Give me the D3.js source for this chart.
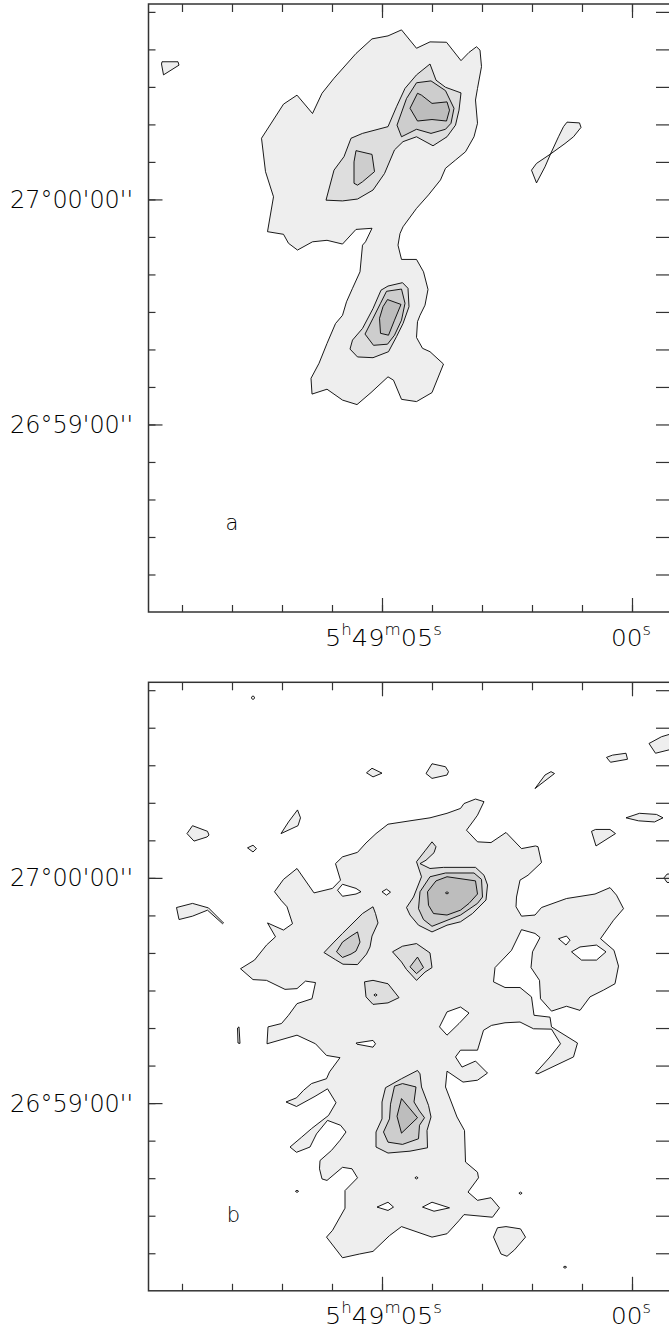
<!DOCTYPE html>
<html><head><meta charset="utf-8">
<script src="https://cdn.jsdelivr.net/npm/d3@7"></script>
<style>
body{margin:0;background:#fff;}
svg{display:block;}
text{font-family:"DejaVu Sans","Liberation Sans",sans-serif;font-weight:200;fill:#000;}
</style></head><body>
<svg id="chart" width="669" height="1333"></svg>
<script>
// Coordinates: RA = seconds of time after 5h49m00s ; Dec = arcsec offset from +27°00'00"
const raMinorTicks = [9,8,7,6,5,4,3,2,1,0];
const raMajorTicks = [5,0];
const raLabelParts = [[["5","h"],["49","m"],["05","s"]],[["00","s"]]];
const decMinorTicks = [50,40,30,20,10,0,-10,-20,-30,-40,-50,-60,-70,-80,-90,-100];
const decMajorTicks = [0,-60];
const decLabels = ["27°00'00''","26°59'00''"];
const panelNames = ["a","b"];

// ---------- Panel a ----------
const panelA_L1 = [
 [[9.40,36.7],[9.08,36.7],[9.06,35.8],[9.37,33.2],[9.41,36.1]],
 [[7.17,0.7],[7.33,7.4],[7.41,16.3],[6.97,25.4],[6.70,27.8],[6.39,22.9],[6.20,28.3],[5.96,32.3],[5.52,38.9],[5.20,42.8],[4.88,43.6],[4.61,45.2],[4.31,40.3],[4.04,42.0],[3.71,41.9],[3.42,37.0],[3.26,39.2],[3.11,40.7],[3.04,39.8],[3.01,35.4],[3.09,29.6],[3.13,26.5],[3.09,20.3],[3.16,16.7],[3.33,12.7],[3.53,10.5],[3.73,8.3],[3.83,5.2],[4.07,1.2],[4.31,-2.4],[4.58,-7.3],[4.64,-9.1],[4.68,-12.2],[4.61,-16.0],[4.31,-16.0],[4.17,-19.3],[4.08,-24.0],[4.14,-28.2],[4.24,-30.9],[4.29,-32.6],[4.31,-36.8],[4.19,-39.7],[4.04,-40.6],[3.77,-43.9],[4.00,-51.5],[4.31,-53.9],[4.61,-53.3],[4.77,-48.2],[4.88,-47.3],[5.22,-51.5],[5.50,-54.7],[5.79,-53.5],[6.10,-50.6],[6.40,-51.9],[6.42,-47.7],[6.26,-43.7],[6.10,-38.4],[5.93,-33.1],[5.79,-30.9],[5.71,-27.3],[5.59,-23.7],[5.44,-19.3],[5.39,-12.2],[5.33,-11.3],[5.20,-7.7],[5.52,-8.0],[5.79,-11.9],[6.10,-10.9],[6.39,-11.3],[6.69,-13.5],[6.87,-11.7],[6.97,-9.3],[7.29,-8.6]],
 [[2.01,7.8],[1.91,9.6],[1.63,12.1],[1.34,14.9],[1.17,16.7],[1.02,19.2],[1.05,20.4],[1.30,20.6],[1.37,19.4],[1.47,16.7],[1.63,12.1],[1.74,8.7],[1.91,4.4]]
];
const panelA_holes = [];
const panelA_L2 = [
 [[6.12,-0.2],[5.96,7.8],[5.76,11.4],[5.62,16.3],[5.39,17.6],[4.88,19.4],[4.71,24.7],[4.54,29.6],[4.31,33.2],[4.04,36.1],[3.92,31.8],[3.73,29.9],[3.42,28.4],[3.46,23.8],[3.53,19.8],[3.70,16.7],[3.98,14.3],[4.31,16.7],[4.58,15.4],[4.75,13.2],[4.95,6.9],[5.18,2.5],[5.49,0.1],[5.79,-0.4]],
 [[5.02,-24.2],[4.88,-23.1],[4.59,-22.2],[4.48,-23.7],[4.46,-28.6],[4.58,-33.1],[4.71,-36.6],[4.87,-40.6],[5.18,-42.2],[5.49,-42.0],[5.64,-39.9],[5.59,-37.5],[5.39,-34.4],[5.18,-29.1]]
];
const panelA_L3 = [
 [[4.31,31.1],[4.02,31.6],[3.73,29.0],[3.56,24.3],[3.62,20.3],[3.73,18.7],[4.02,17.6],[4.31,18.7],[4.61,16.7],[4.70,19.8],[4.51,26.9]],
 [[5.52,13.0],[5.20,12.0],[5.15,7.4],[5.39,4.7],[5.49,3.8],[5.56,4.3],[5.56,10.0]],
 [[4.91,-24.5],[4.61,-23.9],[4.54,-27.7],[4.61,-32.2],[4.75,-36.2],[4.89,-38.6],[5.17,-38.9],[5.34,-35.9],[5.18,-31.7],[5.03,-27.7]]
];
const panelA_L4 = [
 [[4.29,28.3],[4.21,27.8],[4.00,25.6],[3.70,26.0],[3.65,23.8],[3.71,20.9],[4.00,21.3],[4.29,20.9],[4.44,24.3]],
 [[4.89,-26.7],[4.62,-28.0],[4.75,-32.2],[4.87,-36.2],[5.03,-35.7],[5.05,-31.7],[4.98,-28.6]]
];
const panelA_specks = [];

// ---------- Panel b ----------
const panelB_L1 = [
 [[7.62,48.0],[7.58,48.5],[7.54,48.0],[7.58,47.5]],
 [[5.31,28.0],[5.20,29.2],[5.00,27.9],[5.18,26.9]],
 [[4.12,27.8],[4.00,30.4],[3.73,29.6],[3.67,28.3],[3.70,27.4],[4.00,26.5]],
 [[1.94,23.8],[1.74,27.4],[1.62,28.3],[1.55,27.8]],
 [[0.51,32.1],[0.39,32.7],[0.12,33.2],[0.09,31.6],[0.43,30.8]],
 [[-0.34,35.8],[-0.59,37.6],[-0.74,38.2],[-0.95,39.0],[-0.95,33.0],[-0.74,34.1],[-0.47,33.2]],
 [[0.12,16.0],[-0.15,17.2],[-0.49,16.9],[-0.62,16.0],[-0.45,14.9],[-0.13,15.2]],
 [[0.81,12.4],[0.73,12.9],[0.44,12.9],[0.33,11.8],[0.72,8.5]],
 [[8.90,11.8],[8.79,13.9],[8.49,12.4],[8.46,11.4],[8.50,10.9],[8.76,9.8]],
 [[7.02,11.8],[6.87,14.9],[6.69,18.1],[6.63,16.0],[6.68,13.9]],
 [[7.69,8.0],[7.58,8.7],[7.51,7.8],[7.58,6.9]],
 [[-0.64,0.0],[-0.70,1.0],[-0.90,1.2],[-0.90,-1.4],[-0.70,-1.2]],
 [[9.11,-7.9],[8.79,-6.8],[8.47,-8.0],[8.17,-12.0],[8.19,-12.2],[8.49,-8.6],[8.79,-10.2],[9.06,-11.1]],
 [[7.89,-40.0],[7.86,-39.7],[7.84,-44.1],[7.88,-44.0]],
 [[2.77,-95.7],[2.69,-93.2],[2.52,-92.9],[2.23,-93.5],[2.13,-95.7],[2.35,-99.1],[2.50,-100.8],[2.62,-100.2]],
 [[4.88,14.3],[4.44,15.2],[4.04,16.0],[3.70,17.2],[3.43,18.5],[3.36,19.8],[3.13,21.0],[2.96,20.3],[3.09,16.7],[3.16,15.4],[3.31,12.7],[3.09,9.6],[2.82,9.4],[2.52,12.1],[2.21,7.8],[1.93,8.5],[1.88,8.3],[1.81,4.1],
  [2.08,0.7],[2.24,-0.6],[2.31,-5.1],[2.32,-7.7],[2.21,-10.2],[1.94,-9.9],[1.81,-7.9],[1.31,-5.5],[0.74,-4.3],[0.44,-2.6],[0.31,-4.6],[0.17,-8.2],
  [0.37,-11.3],[0.63,-16.2],[0.36,-19.3],[0.27,-23.5],[0.34,-28.2],[0.57,-29.9],[0.84,-31.7],[1.04,-35.3],[1.31,-34.2],[1.61,-35.5],[1.83,-32.2],[1.85,-27.3],[2.02,-23.9],[1.99,-19.7],[1.84,-15.9],[1.94,-14.8],[2.21,-13.8],[2.41,-19.3],[2.74,-23.9],[2.77,-27.7],[2.54,-29.2],[2.24,-29.2],[2.01,-31.7],[1.96,-36.6],[1.64,-37.1],[1.61,-39.7],
  [1.09,-44.0],[1.17,-47.7],[1.88,-52.2],[1.93,-52.0],[1.64,-47.7],[1.43,-44.2],[1.61,-40.3],
  [1.97,-40.2],[2.24,-38.4],[2.54,-38.6],[2.81,-39.3],[2.97,-40.6],
  [3.09,-45.9],[3.43,-45.9],[3.53,-47.7],[3.40,-50.4],[3.13,-48.8],[2.89,-52.0],[3.09,-53.9],[3.38,-54.4],[3.70,-51.5],[3.73,-55.7],[3.50,-63.7],[3.35,-67.3],
  [3.33,-75.7],[3.09,-78.4],[3.07,-79.9],[3.28,-83.7],[3.09,-85.9],[2.82,-85.2],[2.65,-87.9],[2.79,-90.4],[3.36,-89.7],[3.46,-91.3],[3.70,-94.8],[4.00,-95.7],[4.61,-92.9],[4.85,-95.3],[5.18,-99.5],[5.45,-100.2],[5.79,-101.2],[6.11,-95.7],[5.99,-93.9],[5.74,-88.0],[5.74,-83.3],[5.49,-79.9],[5.60,-77.5],[5.79,-77.1],[6.10,-80.6],[6.20,-80.2],
  [6.25,-77.5],[6.24,-75.3],[6.01,-72.6],[5.84,-69.9],[5.72,-67.7],[5.83,-65.9],[6.09,-64.6],[6.31,-68.2],[6.44,-71.7],[6.71,-73.1],[6.84,-71.7],[6.61,-69.1],[6.41,-66.8],[6.07,-63.3],[5.92,-59.9],[6.09,-56.2],[6.34,-58.2],[6.71,-60.9],[6.92,-59.7],[6.71,-58.6],[6.57,-56.6],[6.41,-54.8],[6.11,-53.5],[6.05,-51.7],[5.84,-47.9],[6.11,-47.3],
  [6.33,-44.2],[6.70,-41.9],[7.30,-44.2],[7.28,-39.7],[7.01,-38.8],[6.87,-36.6],[6.70,-33.5],[6.40,-32.2],[6.33,-27.9],[6.53,-27.5],[6.70,-29.5],[6.94,-29.7],[7.31,-27.3],[7.58,-27.1],[7.83,-24.2],[7.55,-21.9],[7.31,-17.9],[7.13,-15.7],[7.29,-12.0],[6.97,-13.9],[6.79,-12.2],[6.90,-7.7],[7.01,-6.1],
  [7.15,-3.7],[6.97,-0.4],[6.70,2.5],[6.36,-4.0],[5.99,-2.8],[5.83,-0.6],[5.93,3.8],[5.79,5.6],[5.49,6.8],[5.32,9.3],[5.12,11.8]]
];
const panelB_holes = [
 [[5.89,-3.3],[5.79,-1.7],[5.52,-2.8],[5.42,-3.7],[5.52,-4.3],[5.79,-4.9]],
 [[5.00,-3.7],[4.91,-3.0],[4.83,-3.8],[4.91,-4.6]],
 [[1.47,-16.2],[1.31,-15.5],[1.24,-16.6],[1.32,-17.9]],
 [[1.21,-19.7],[1.04,-18.4],[0.71,-17.9],[0.52,-19.7],[0.71,-21.9],[1.01,-21.9]],
 [[3.85,-39.7],[3.70,-35.7],[3.43,-34.4],[3.26,-36.0],[3.46,-38.8],[3.70,-41.9]],
 [[5.52,-44.0],[5.18,-43.3],[5.13,-44.2],[5.18,-45.1],[5.50,-44.3]],
 [[5.10,-87.7],[4.88,-86.4],[4.77,-87.7],[4.88,-88.6]],
 [[4.19,-87.7],[4.00,-86.4],[3.65,-87.9],[3.96,-88.8]]
];
const panelB_L2 = [
 [[4.21,0.3],[4.31,4.3],[4.14,7.2],[4.00,9.6],[3.92,8.3],[3.96,6.7],[4.12,4.7],[4.24,3.8],[4.04,2.5],[3.77,2.8],[3.13,2.8],[2.96,0.7],[2.89,-1.9],[2.92,-5.9],[3.19,-9.5],[3.43,-11.7],[3.70,-12.6],[4.00,-14.4],[4.27,-12.6],[4.44,-9.9],[4.51,-7.9],[4.37,-5.1]],
 [[6.16,-19.9],[5.96,-17.1],[5.79,-14.8],[5.39,-9.5],[5.18,-7.7],[5.13,-9.5],[5.08,-12.0],[5.20,-15.5],[5.24,-18.4],[5.31,-20.3],[5.49,-23.1],[5.78,-23.0],[5.93,-21.8]],
 [[4.79,-19.7],[4.59,-18.2],[4.31,-17.5],[4.04,-20.0],[4.00,-23.9],[4.14,-25.1],[4.31,-27.3],[4.51,-24.4],[4.61,-22.4]],
 [[5.35,-27.7],[5.18,-27.3],[4.88,-28.2],[4.66,-31.9],[4.88,-33.3],[5.18,-33.7],[5.32,-31.7]],
 [[4.93,-55.9],[4.61,-53.5],[4.29,-51.3],[4.24,-52.2],[4.21,-55.7],[4.07,-60.6],[4.02,-63.7],[4.10,-67.3],[4.09,-71.9],[4.44,-72.8],[4.88,-73.3],[5.12,-71.7],[5.12,-67.7],[5.00,-64.2],[5.00,-59.7]]
];
const panelB_L3 = [
 [[4.24,-3.7],[4.04,0.3],[3.73,1.3],[3.16,1.3],[3.01,-0.4],[2.99,-5.1],[3.09,-6.8],[3.43,-9.9],[4.00,-12.9],[4.17,-11.1],[4.27,-8.2]],
 [[5.91,-19.7],[5.79,-17.1],[5.62,-15.5],[5.49,-14.4],[5.44,-17.1],[5.52,-19.5],[5.62,-20.3],[5.79,-21.2]],
 [[4.44,-23.7],[4.29,-21.1],[4.17,-23.9],[4.31,-25.5]],
 [[4.75,-55.5],[4.59,-54.8],[4.32,-55.7],[4.36,-59.7],[4.25,-62.1],[4.15,-63.9],[4.25,-65.9],[4.27,-69.5],[4.59,-71.0],[4.88,-70.4],[4.97,-67.7],[4.85,-64.2],[4.83,-60.3]]
];
const panelB_L4 = [
 [[4.09,-3.7],[3.92,-0.8],[3.70,0.3],[3.13,-0.8],[3.09,-4.3],[3.26,-6.8],[3.43,-8.6],[3.70,-9.9],[3.97,-9.5],[4.07,-7.3]],
 [[4.61,-58.8],[4.29,-63.9],[4.61,-68.0],[4.70,-63.5]]
];
const panelB_specks = [[3.70,-4.0],[6.70,-83.5],[2.23,-84.0],[1.34,-103.7],[4.31,-79.9],[5.13,-31.2]];

// ---------- drawing ----------
const svg = d3.select('#chart');
const x = d3.scaleLinear().domain([9.67,-0.78]).range([148.5,671]);
const decDomain = [52.1,-110.0];
const fills = ['#eeeeee','#ffffff','#dedede','#cdcdcd','#bdbdbd'];

const panels = [
  {name:panelNames[0], top:4, bottom:612, layers:[panelA_L1,panelA_holes,panelA_L2,panelA_L3,panelA_L4], specks:panelA_specks, lab:[8.0,-88.2]},
  {name:panelNames[1], top:682.3, bottom:1290.8, layers:[panelB_L1,panelB_holes,panelB_L2,panelB_L3,panelB_L4], specks:panelB_specks, lab:[7.97,-91.8]}
];

panels.forEach(cfg=>{
  const y = d3.scaleLinear().domain(decDomain).range([cfg.top,cfg.bottom]);
  const g = svg.append('g');
  const clipId = 'clip-'+cfg.name;
  svg.append('clipPath').attr('id',clipId).append('rect')
     .attr('x',x.range()[0]).attr('y',cfg.top)
     .attr('width',x.range()[1]-x.range()[0]).attr('height',cfg.bottom-cfg.top);
  const cg = g.append('g').attr('clip-path',`url(#${clipId})`);
  const line = d3.line().x(p=>x(p[0])).y(p=>y(p[1])).curve(d3.curveLinearClosed);
  cfg.layers.forEach((polys,i)=>{
    cg.append('g').selectAll('path').data(polys).enter().append('path')
      .attr('d',line).attr('fill',fills[i]).attr('stroke','#000')
      .attr('stroke-width',0.9).attr('stroke-linejoin','round');
  });
  cg.append('g').selectAll('path').data(cfg.specks).enter().append('path')
    .attr('d',p=>{const cx=x(p[0]),cy=y(p[1]);return `M${cx-1.6},${cy}L${cx},${cy-1.1}L${cx+1.6},${cy}L${cx},${cy+1.1}Z`;})
    .attr('fill','#eeeeee').attr('stroke','#000').attr('stroke-width',0.9);

  // axes (inward ticks)
  const styleAxis = sel=>{sel.select('.domain').remove();sel.selectAll('line').attr('stroke','#333').attr('stroke-width',1.2);};
  g.append('g').attr('transform',`translate(0,${cfg.bottom})`).call(d3.axisBottom(x).tickValues(raMinorTicks).tickSize(-7).tickFormat('')).call(styleAxis);
  g.append('g').attr('transform',`translate(0,${cfg.bottom})`).call(d3.axisBottom(x).tickValues(raMajorTicks).tickSize(-14).tickFormat('')).call(styleAxis);
  g.append('g').attr('transform',`translate(0,${cfg.top})`).call(d3.axisTop(x).tickValues(raMinorTicks).tickSize(-8).tickFormat('')).call(styleAxis);
  g.append('g').attr('transform',`translate(0,${cfg.top})`).call(d3.axisTop(x).tickValues(raMajorTicks).tickSize(-14).tickFormat('')).call(styleAxis);
  g.append('g').attr('transform',`translate(${x.range()[0]},0)`).call(d3.axisLeft(y).tickValues(decMinorTicks).tickSize(-7).tickFormat('')).call(styleAxis);
  g.append('g').attr('transform',`translate(${x.range()[0]},0)`).call(d3.axisLeft(y).tickValues(decMajorTicks).tickSize(-14).tickFormat('')).call(styleAxis);
  g.append('g').attr('transform',`translate(${x.range()[1]},0)`).call(d3.axisRight(y).tickValues(decMinorTicks).tickSize(-15).tickFormat('')).call(styleAxis);

  g.append('rect').attr('x',x.range()[0]).attr('y',cfg.top)
    .attr('width',x.range()[1]-x.range()[0]).attr('height',cfg.bottom-cfg.top)
    .attr('fill','none').attr('stroke','#333').attr('stroke-width',1.5);

  // Dec labels
  g.selectAll('text.dec').data(decMajorTicks).enter().append('text').attr('class','dec')
    .attr('x',133).attr('y',d=>y(d)+8.5).attr('text-anchor','end').attr('font-size',24)
    .attr('textLength',123).attr('lengthAdjust','spacingAndGlyphs')
    .text((d,i)=>decLabels[i]);

  // RA labels
  raMajorTicks.forEach((v,i)=>{
    const t = g.append('text').attr('x',i===0?x(v)+1.5:x(v)-1).attr('y',cfg.bottom+33.5)
      .attr('text-anchor','middle').attr('font-size',23);
    raLabelParts[i].forEach(([m,s],j)=>{
      t.append('tspan').attr('dy',j===0?0:11).text(m);
      t.append('tspan').attr('font-size',15).attr('dy',-11).text(s);
    });
    t.attr('textLength',i===0?117:40).attr('lengthAdjust','spacingAndGlyphs');
  });

  g.append('text').attr('x',x(cfg.lab[0])).attr('y',y(cfg.lab[1]))
    .attr('text-anchor','middle').attr('font-size',21).text(cfg.name);
});
</script></body></html>
